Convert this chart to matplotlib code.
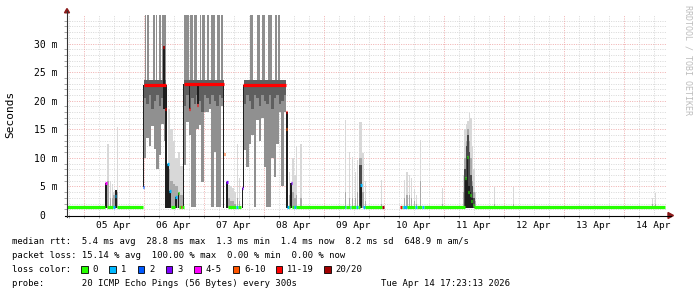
import matplotlib
matplotlib.use('Agg')
import matplotlib.pyplot as plt
from matplotlib.lines import Line2D
from matplotlib.patches import Polygon, Rectangle
import numpy as np

# ---------------- data (time = hours since 05 Apr 00:00, values in ms) ----------------
day_labels = ["05 Apr", "06 Apr", "07 Apr", "08 Apr", "09 Apr",
              "10 Apr", "11 Apr", "12 Apr", "13 Apr", "14 Apr"]
ytick_vals = [0, 5, 10, 15, 20, 25, 30]
ytick_labels = ["0  ", "5 m", "10 m", "15 m", "20 m", "25 m", "30 m"]
t_start, t_end = -6.617, 233.383

loss_names = ["0", "1", "2", "3", "4-5", "6-10", "11-19", "20/20"]
loss_colors = ["#26ff00", "#00b8ff", "#0059ff", "#7e00ff",
               "#ff00ff", "#ff5500", "#ff0000", "#a10000"]

# median rtt steps
med_start = [-6.62, 8.6, 9.2, 11.8, 12.7, 13.2, 23.8, 24.2, 31.6, 32.6, 33.4, 34.2, 35.0,
             36.6, 37.6, 38.2, 38.8, 39.2, 40.0, 42.2, 45.5, 56.0, 56.8, 57.8, 61.0, 61.8,
             63.2, 63.8, 80.8, 80.8, 81.4, 82.0, 82.8, 83.4, 84.0, 84.8, 104.4, 105.0,
             106.6, 107.0, 109.0, 109.6, 110.6, 111.6, 112.6, 119.4, 126.6, 127.2, 127.8,
             129.4, 132.6, 133.4, 135.4, 136.2, 152.6, 153.2, 153.8, 154.4, 155.0, 155.6,
             156.2]
med_end = [8.6, 9.2, 11.8, 12.6, 13.1, 23.8, 24.2, 33.0, 32.0, 33.0, 34.0, 35.0, 36.6,
           37.4, 38.1, 38.8, 39.2, 40.0, 56.0, 42.6, 45.9, 56.4, 57.8, 61.0, 61.8, 63.0,
           63.8, 81.0, 81.4, 81.4, 82.0, 82.6, 83.4, 84.0, 84.8, 104.4, 105.0, 106.6,
           107.0, 109.0, 109.6, 110.6, 111.4, 112.6, 119.4, 120.0, 127.2, 127.8, 129.4,
           132.6, 133.4, 135.4, 136.2, 152.6, 153.0, 153.6, 154.2, 154.8, 155.4, 156.0,
           232.6]
med_ms = [1.35, 5.6, 1.35, 1.35, 3.3, 1.35, 4.9, 22.8, 29.4, 18.6, 9.0, 4.2, 1.35,
          3.2, 3.8, 1.35, 1.35, 1.35, 22.9, 18.5, 19.2, 10.6, 5.7, 1.35, 1.35, 1.35,
          4.7, 22.8, 18.0, 15.0, 1.35, 1.35, 5.6, 1.35, 1.35, 1.35, 1.35, 1.35,
          1.35, 1.35, 1.35, 1.35, 5.2, 1.35, 1.35, 1.35, 1.35, 1.35, 1.35,
          1.35, 1.35, 1.35, 1.35, 1.35, 6.4, 10.2, 4.0, 3.5, 2.5, 1.8,
          1.35]
med_loss = [0, 4, 0, 1, 1, 0, 2, 6, 6, 6, 1, 1, 0,
            1, 0, 0, 6, 0, 6, 6, 6, 5, 3, 0, 1, 0,
            3, 6, 6, 5, 1, 0, 3, 0, 1, 0, 1, 0,
            1, 0, 1, 0, 1, 1, 0, 7, 6, 0, 1,
            0, 1, 0, 1, 0, 0, 0, 0, 0, 0, 0,
            0]

# high-latency plateaus: per hour column, smoke bottom / dark-core bottom
plat_t = [24, 25, 26, 27, 28, 29, 30, 31, 32,
          40, 41, 42, 43, 44, 45, 46, 47, 48, 49, 50, 51, 52, 53, 54, 55,
          64, 65, 66, 67, 68, 69, 70, 71, 72, 73, 74, 75, 76, 77, 78, 79, 80]
plat_lo = [10.0, 13.5, 12.0, 15.5, 11.5, 8.0, 10.5, 16.0, 13.0,
           8.7, 16.2, 14.0, 1.4, 1.4, 15.0, 15.7, 5.8, 18.0, 18.0, 18.5, 1.4, 11.0, 1.4, 1.4, 19.0,
           11.3, 8.4, 12.5, 14.0, 1.4, 16.6, 13.0, 17.0, 8.4, 1.4, 1.4, 10.0, 6.7, 12.5, 18.0, 5.0, 18.0]
plat_core = [20.5, 19.5, 21.0, 18.5, 20.0, 21.0, 19.0, 20.5, 19.0,
             19.0, 21.0, 18.5, 20.5, 19.5, 21.0, 20.0, 18.0, 21.0, 20.5, 19.5, 21.0, 20.0, 19.0, 21.0, 20.5,
             19.5, 21.0, 20.0, 18.5, 21.0, 20.5, 19.0, 21.0, 20.0, 19.5, 21.0, 18.5, 20.5, 21.0, 19.5, 20.0, 21.0]
plat_top = 23.6
# off-scale smoke spikes above the plateaus (start, width in hours)
spike_t = [24.6, 25.4, 26.4, 27.9, 28.9, 30.2, 31.2, 31.9,
           40.2, 42.6, 44.1, 46.6, 47.4, 49.3, 51.1, 53.4, 55.0,
           66.6, 69.3, 71.5, 73.7, 76.6, 77.8]
spike_w = [0.5, 0.8, 0.3, 0.5, 0.4, 0.7, 0.5, 1.1,
           1.9, 1.1, 1.3, 0.5, 1.1, 1.0, 1.3, 1.2, 0.8,
           1.3, 1.3, 1.1, 1.6, 0.9, 0.9]
spike_top = 36.0

# light smoke bursts: start, width (h), outer top, inner top, dark core top
smoke_t = [9.4, 10.4, 11.2, 11.8, 13.2,
           33.6, 34.6, 35.6, 36.6, 37.6, 38.6,
           57.8, 58.6, 59.4, 60.2, 61.2, 62.0,
           82.0, 83.4, 84.2, 84.8, 86.6,
           104.4, 106.0, 107.2, 108.6, 109.2, 110.2, 111.4, 112.4, 118.8,
           128.2, 129.0, 130.0, 130.8, 132.0, 133.0, 134.6, 143.4,
           151.6, 152.2, 152.8, 153.4, 154.0, 154.6, 155.2, 155.8, 156.4,
           164.2, 171.8, 227.4, 228.6]
smoke_w = [0.6, 0.6, 0.6, 0.8, 0.6,
           1.0, 1.0, 1.0, 1.0, 1.0, 1.0,
           0.8, 0.8, 0.8, 0.6, 0.6, 0.6,
           0.6, 0.6, 0.6, 0.6, 0.6,
           0.6, 0.4, 0.4, 0.4, 0.4, 1.2, 0.6, 0.4, 0.4,
           0.4, 0.6, 0.6, 0.6, 0.4, 0.4, 0.4, 0.4,
           0.6, 0.6, 0.6, 0.6, 0.6, 0.6, 0.6, 0.6, 0.4,
           0.4, 0.4, 0.4, 0.4]
smoke_hi = [12.5, 6.0, 5.5, 4.0, 15.4,
            18.5, 15.0, 13.0, 10.0, 11.0, 8.5,
            5.2, 5.0, 4.8, 4.0, 12.5, 6.5,
            7.5, 10.0, 7.0, 12.0, 12.5,
            16.6, 11.0, 10.2, 7.6, 9.6, 16.3, 10.8, 6.0, 6.1,
            6.1, 7.6, 7.0, 6.5, 4.5, 3.5, 13.1, 4.7,
            7.0, 15.0, 16.0, 16.5, 17.8, 17.0, 12.0, 8.0, 4.0,
            4.9, 4.9, 3.0, 3.8]
smoke_mid = [6.0, 3.0, 3.0, 3.5, 4.0,
             8.0, 6.0, 5.5, 5.0, 4.0, 3.5,
             3.0, 2.5, 2.5, 2.0, 3.0, 2.5,
             3.5, 4.0, 3.0, 3.5, 3.0,
             4.0, 3.0, 3.0, 3.0, 4.0, 10.0, 4.0, 2.5, 2.0,
             3.0, 3.5, 3.5, 3.0, 2.5, 2.0, 6.0, 2.0,
             4.0, 10.0, 13.0, 15.0, 13.0, 10.0, 6.0, 4.0, 2.5,
             2.0, 2.0, 2.0, 2.0]
smoke_core = [0, 0, 0, 0, 0,
              0, 0, 0, 0, 0, 0,
              0, 0, 0, 0, 0, 0,
              0, 0, 0, 0, 0,
              0, 0, 0, 0, 0, 8.7, 0, 0, 0,
              0, 0, 0, 0, 0, 0, 0, 0,
              0, 8.0, 12.0, 14.0, 11.0, 7.0, 5.0, 3.0, 0,
              0, 0, 0, 0]
smoke_floor = 1.2

# darkest smoke (near-black columns): start, width, low, high
dark_t = [8.6, 12.6, 23.7, 31.6, 32.6, 33.4, 34.2, 36.6, 37.6, 39.7, 42.1, 45.4,
          55.9, 56.8, 63.2, 63.6, 80.8, 82.6, 110.6, 152.6, 153.2, 153.8, 154.4, 155.0]
dark_w = [0.6, 0.6, 0.4, 1.0, 0.8, 0.8, 0.8, 0.6, 0.5, 0.4, 0.6, 0.6,
          0.4, 1.0, 0.6, 0.4, 0.8, 0.8, 0.8, 0.6, 0.6, 0.6, 0.6, 0.8]
dark_lo = [1.3, 1.3, 4.9, 18.5, 1.3, 1.3, 1.3, 1.3, 1.3, 1.3, 18.5, 19.5,
           1.3, 1.3, 1.3, 4.7, 1.3, 1.3, 1.3, 1.3, 1.3, 1.3, 1.3, 1.3]
dark_hi = [5.6, 4.4, 22.8, 29.6, 22.8, 9.0, 4.2, 3.2, 3.8, 22.9, 22.9, 22.9,
           22.9, 5.7, 4.7, 22.8, 18.0, 5.6, 5.2, 6.4, 10.2, 5.0, 4.0, 3.0]

legend_line1 = "median rtt:  5.4 ms avg  28.8 ms max  1.3 ms min  1.4 ms now  8.2 ms sd  648.9 m am/s"
legend_line2 = "packet loss: 15.14 % avg  100.00 % max  0.00 % min  0.00 % now"
legend_line3 = "loss color:"
legend_line4 = "probe:       20 ICMP Echo Pings (56 Bytes) every 300s"
date_text = "Tue Apr 14 17:23:13 2026"
watermark = "RRDTOOL / TOBI OETIKER"

# ---------------- figure ----------------
W, H = 697, 297
MONO = "DejaVu Sans Mono"
fig = plt.figure(figsize=(W / 100, H / 100), dpi=100)
fig.patch.set_facecolor("white")

L, R, T, B = 67, 667, 15, 215
ax = fig.add_axes([L / W, 1 - B / H, (R - L) / W, (B - T) / H])
ax.set_xlim(t_start, t_end)
ax.set_ylim(0, 35)
for s in ax.spines.values():
    s.set_visible(False)

dot = (0, (1.2, 1.6))
for v in range(1, 35):
    if v % 5:
        ax.axhline(v, color="#d2d2d2", lw=0.6, ls=dot, zorder=0)
for v in range(5, 35, 5):
    ax.axhline(v, color="#eea3a3", lw=0.6, ls=dot, zorder=0)
for hh in range(-6, 234, 6):
    if hh % 24:
        ax.axvline(hh, color="#d2d2d2", lw=0.6, ls=dot, zorder=0)
for hh in range(0, 234, 24):
    ax.axvline(hh, color="#eea3a3", lw=0.6, ls=dot, zorder=0)

# smoke bursts
st = np.array(smoke_t); sw = np.array(smoke_w)
ax.bar(st, np.array(smoke_hi) - smoke_floor, sw, bottom=smoke_floor, align="edge",
       color="#d8d8d8", lw=0, zorder=1)
ax.bar(st, np.array(smoke_mid) - smoke_floor, sw, bottom=smoke_floor, align="edge",
       color="#a9a9a9", lw=0, zorder=2)
core = np.array(smoke_core)
mask = core > 0
ax.bar(st[mask], core[mask] - smoke_floor, sw[mask], bottom=smoke_floor, align="edge",
       color="#4a4a4a", lw=0, zorder=3)

# plateaus
pt = np.array(plat_t, float)
ax.bar(pt, plat_top - np.array(plat_lo), 1.0, bottom=plat_lo, align="edge",
       color="#909090", lw=0, zorder=2)
ax.bar(pt, plat_top - np.array(plat_core), 1.0, bottom=plat_core, align="edge",
       color="#5f5f5f", lw=0, zorder=3)
ax.bar(spike_t, spike_top - plat_top, spike_w, bottom=plat_top, align="edge",
       color="#8e8e8e", lw=0, zorder=2)

# darkest columns
ax.bar(dark_t, np.array(dark_hi) - np.array(dark_lo), dark_w, bottom=dark_lo,
       align="edge", color="#1e1e1e", lw=0, zorder=4)

# median line coloured by loss
for s0, s1, v, lc in zip(med_start, med_end, med_ms, med_loss):
    ax.hlines(v, s0, s1, colors=loss_colors[lc], lw=2.3, zorder=5, capstyle="butt")

# ticks
ax.set_yticks(ytick_vals)
ax.set_yticklabels(ytick_labels, fontfamily=MONO, fontsize=7)
ax.set_xticks([12 + 24 * k for k in range(len(day_labels))])
ax.set_xticklabels(day_labels, fontfamily=MONO, fontsize=6.8)
ax.set_yticks(range(0, 35), minor=True)
ax.set_xticks(range(-6, 234, 6), minor=True)
ax.tick_params(axis="y", which="major", length=0, pad=7)
ax.tick_params(axis="x", which="major", length=0, pad=4)
ax.tick_params(which="minor", length=2, width=0.6, color="#999999")


def fx(x):
    return x / W


def fy(y):
    return 1 - y / H


# axis lines and arrows
fig.add_artist(Line2D([fx(L - 2), fx(671)], [fy(B + 0.5), fy(B + 0.5)], color="#000000", lw=0.8))
fig.add_artist(Line2D([fx(L), fx(L)], [fy(B + 2), fy(11)], color="#333333", lw=0.8))
fig.add_artist(Polygon([(fx(64.5), fy(12.8)), (fx(69.5), fy(12.8)), (fx(67), fy(8.5))],
                       closed=True, color="#8b1a1a", transform=fig.transFigure))
fig.add_artist(Polygon([(fx(668), fy(212.5)), (fx(668), fy(218.5)), (fx(673.5), fy(215.5))],
                       closed=True, color="#8b1a1a", transform=fig.transFigure))

# y label and watermark
fig.text(fx(10.5), fy(114), "Seconds", rotation=90, ha="center", va="center",
         fontfamily=MONO, fontsize=8)
fig.text(fx(688), fy(5), watermark, rotation=270, ha="center", va="top",
         fontfamily=MONO, fontsize=6, color="#bdbdbd")

# legend
fs = 6.4
x0 = 11.7
fig.text(fx(x0), fy(241.7), legend_line1, ha="left", va="center", fontfamily=MONO, fontsize=fs)
fig.text(fx(x0), fy(255.5), legend_line2, ha="left", va="center", fontfamily=MONO, fontsize=fs)
fig.text(fx(x0), fy(269.3), legend_line3, ha="left", va="center", fontfamily=MONO, fontsize=fs)
fig.text(fx(x0), fy(283.0), legend_line4, ha="left", va="center", fontfamily=MONO, fontsize=fs)
fig.text(fx(510), fy(283.0), date_text, ha="right", va="center", fontfamily=MONO, fontsize=fs)

xp = 81.0
for name, col in zip(loss_names, loss_colors):
    fig.add_artist(Rectangle((fx(xp), fy(272.8)), 6.5 / W, 7 / H, facecolor=col,
                             edgecolor="black", lw=0.6, transform=fig.transFigure))
    lx = xp + 11.5
    fig.text(fx(lx), fy(269.3), name, ha="left", va="center", fontfamily=MONO, fontsize=fs)
    xp = lx + len(name) * 5.0 + 11.8

fig.savefig("out.png", dpi=100, facecolor="white")
